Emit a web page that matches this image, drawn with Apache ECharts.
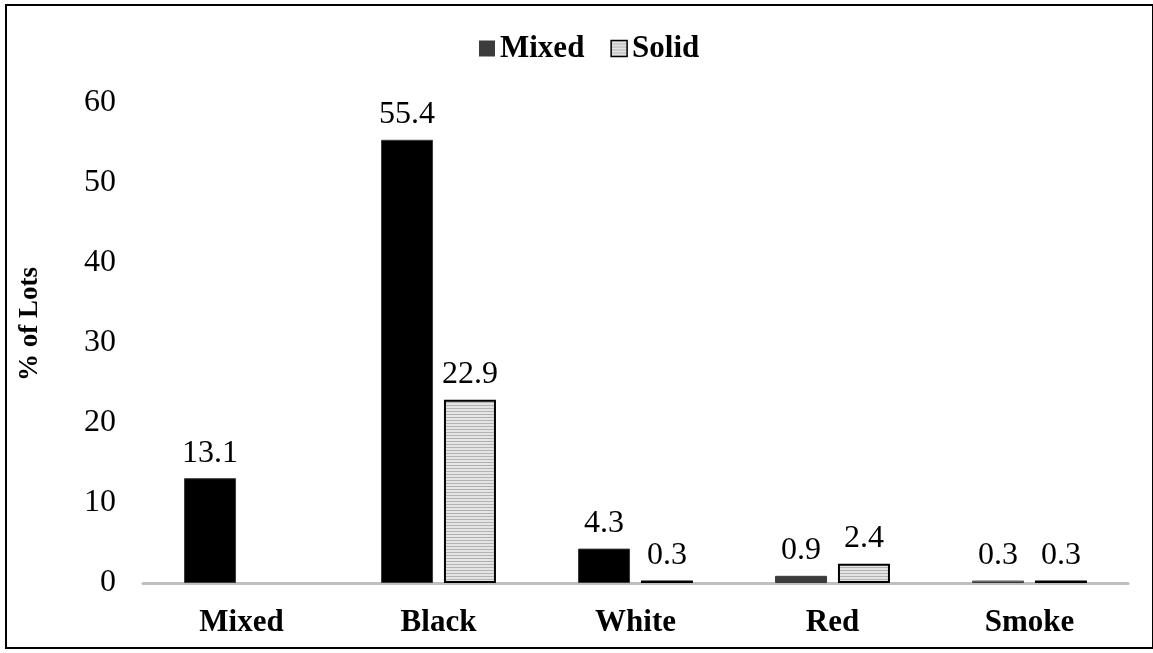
<!DOCTYPE html>
<html>
<head>
<meta charset="utf-8">
<style>
  html, body { margin: 0; padding: 0; background: #fff; }
  #chart { width: 1153px; height: 653px; }
</style>
<script src="https://cdn.jsdelivr.net/npm/echarts@6/dist/echarts.min.js"></script>
</head>
<body>
<div id="chart"></div>
<script>
// Share of lots by colour, split into mixed and solid lots
const categories = ['Mixed', 'Black', 'White', 'Red', 'Smoke'];
const mixedValues = [13.1, 55.4, 4.3, 0.9, 0.3];
const solidValues = ['-', 22.9, 0.3, 2.4, 0.3];
const yTicks = [0, 10, 20, 30, 40, 50, 60];
const yTitle = '% of Lots';

const serif = '"Liberation Serif", "Times New Roman", serif';

// horizontal hatch used to fill the solid-lot bars
function hatch() {
  const c = document.createElement('canvas');
  c.width = 4; c.height = 3;
  const g = c.getContext('2d');
  g.fillStyle = '#e4e4e4';
  g.fillRect(0, 0, 4, 3);
  g.fillStyle = '#b3b3b3';
  g.fillRect(0, 0, 4, 1);
  return c;
}
const hatchFill = { image: hatch(), repeat: 'repeat' };

// the very short dark bars read lighter because of their soft edges
const mixedShades = ['#000', '#000', '#000', '#3c3c3c', '#a8a8a8'];

const chart = echarts.init(document.getElementById('chart'), null, { renderer: 'canvas' });

chart.setOption({
  animation: false,
  backgroundColor: '#fff',
  graphic: [
    {
      type: 'rect',
      shape: { x: 6, y: 5, width: 1147, height: 643 },
      style: { fill: 'none', stroke: '#000', lineWidth: 2 },
      silent: true
    },
    {
      type: 'text',
      x: 30,
      y: 324,
      rotation: Math.PI / 2,
      style: {
        text: yTitle,
        font: 'bold 27px ' + serif,
        fill: '#000',
        align: 'center',
        verticalAlign: 'middle'
      },
      silent: true
    }
  ],
  legend: {
    top: 28,
    left: 474,
    itemWidth: 16,
    itemHeight: 16,
    itemGap: 26,
    textStyle: { fontFamily: serif, fontWeight: 'bold', fontSize: 31, color: '#000' },
    data: [
      { name: 'Mixed', icon: 'rect', itemStyle: { color: '#3c3c3c', borderWidth: 0 } },
      { name: 'Solid', icon: 'rect', itemStyle: { color: hatchFill, borderColor: '#000', borderWidth: 1.5 } }
    ]
  },
  grid: { left: 143, right: 25, top: 103, bottom: 70, containLabel: false },
  xAxis: {
    type: 'category',
    data: categories,
    axisLine: { lineStyle: { color: '#bfbfbf', width: 3 } },
    axisTick: { show: false },
    axisLabel: { fontFamily: serif, fontWeight: 'bold', fontSize: 31, color: '#000', margin: 24 }
  },
  yAxis: {
    type: 'value',
    min: yTicks[0],
    max: yTicks[yTicks.length - 1],
    interval: yTicks[1] - yTicks[0],
    axisLine: { show: false },
    axisTick: { show: false },
    splitLine: { show: false },
    axisLabel: { fontFamily: serif, fontSize: 32, color: '#000', margin: 27, padding: [2, 0, 0, 0] }
  },
  series: [
    {
      name: 'Mixed',
      type: 'bar',
      barWidth: 52,
      barGap: '21%',
      data: mixedValues.map((v, i) => ({ value: v, itemStyle: { color: mixedShades[i] } })),
      itemStyle: { color: '#000', borderColor: '#3a3a3a', borderWidth: 1 },
      label: { show: true, position: 'top', distance: 9, fontFamily: serif, fontSize: 32, color: '#000' }
    },
    {
      name: 'Solid',
      type: 'bar',
      barWidth: 52,
      data: solidValues,
      itemStyle: { color: hatchFill, borderColor: '#000', borderWidth: 2 },
      label: { show: true, position: 'top', distance: 9, fontFamily: serif, fontSize: 32, color: '#000' }
    }
  ]
});
</script>
</body>
</html>
